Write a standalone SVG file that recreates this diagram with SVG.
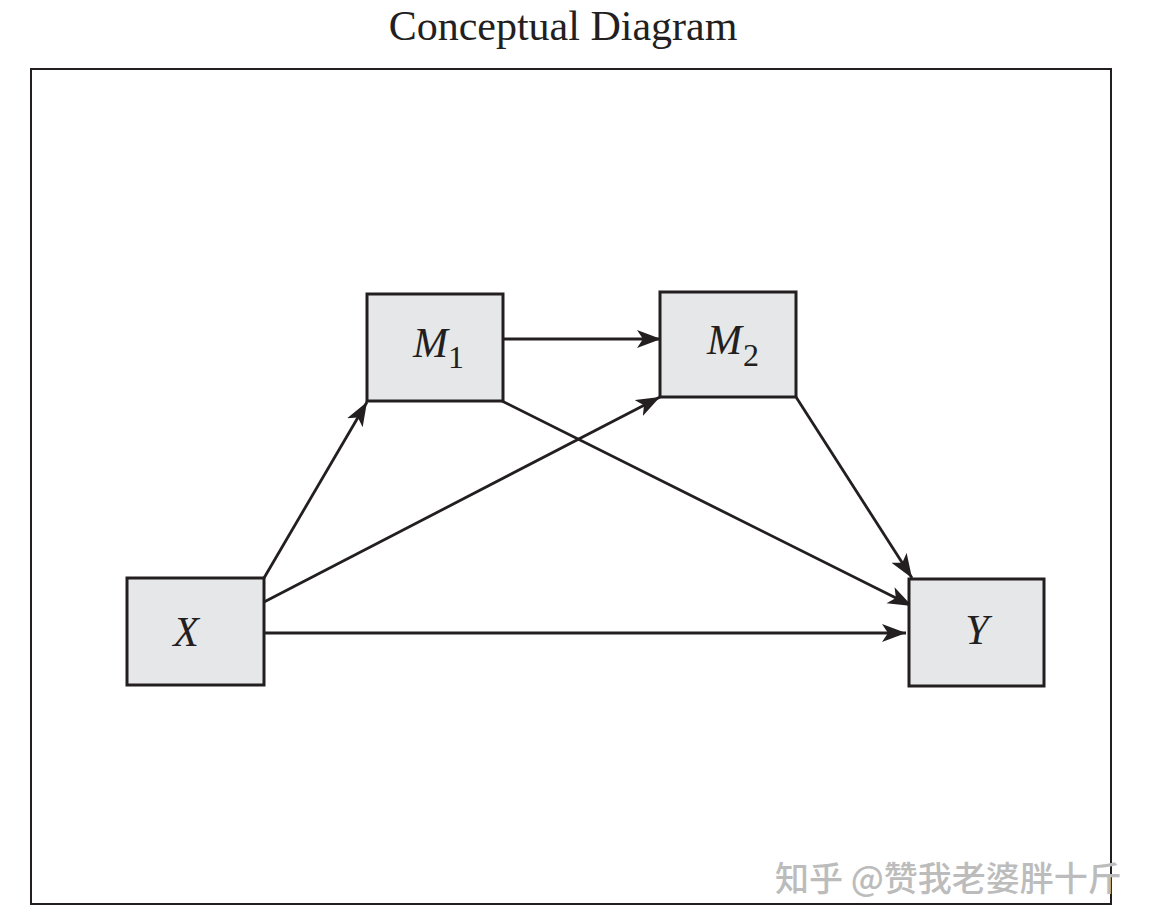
<svg xmlns="http://www.w3.org/2000/svg" width="1151" height="922" viewBox="0 0 1151 922">
<style>
.node rect{fill:#e6e7e9;stroke:#231f20;stroke-width:3}
.lbl{font-family:"Liberation Serif","Times New Roman",serif;font-style:italic;font-size:42px;fill:#231f20}
.sub{font-family:"Liberation Serif","Times New Roman",serif;font-size:32px;fill:#231f20}
.edge{stroke:#231f20;stroke-width:2.8;fill:none;marker-end:url(#ah)}
</style>
<defs>
<marker id="ah" markerUnits="userSpaceOnUse" markerWidth="26" markerHeight="20" refX="24" refY="9" orient="auto">
<path d="M0,0 L24,9 L0,18 L6,9 z" fill="#231f20"/>
</marker>
</defs>
<rect width="1151" height="922" fill="#ffffff"/>
<text x="563" y="40" text-anchor="middle" font-family="'Liberation Serif','Times New Roman',serif" font-size="42" fill="#231f20">Conceptual Diagram</text>
<rect x="31" y="69" width="1080" height="835" fill="none" stroke="#231f20" stroke-width="2"/>
<g id="connectors">
<line class="edge" x1="503" y1="339" x2="661" y2="339"/>
<line class="edge" x1="264" y1="578" x2="367" y2="402"/>
<line class="edge" x1="264" y1="602" x2="660" y2="397"/>
<line class="edge" x1="502" y1="401" x2="912" y2="606"/>
<line class="edge" x1="796" y1="397" x2="912" y2="578"/>
<line class="edge" x1="264" y1="633" x2="906" y2="633"/>
</g>
<g id="node-M1" class="node">
<rect x="367" y="294" width="136" height="107"/>
<text x="413" y="357" class="lbl">M</text><text x="448" y="368" class="sub">1</text>
</g>
<g id="node-M2" class="node">
<rect x="660" y="292" width="136" height="105"/>
<text x="707" y="354" class="lbl">M</text><text x="743" y="366" class="sub">2</text>
</g>
<g id="node-X" class="node">
<rect x="127" y="578" width="137" height="107"/>
<text x="186" y="646" class="lbl" text-anchor="middle">X</text>
</g>
<g id="node-Y" class="node">
<rect x="909" y="579" width="135" height="107"/>
<text x="977" y="644" class="lbl" text-anchor="middle">Y</text>
</g>
<text x="775" y="891" font-family="'Noto Sans CJK SC','Noto Sans',sans-serif" font-size="34" font-weight="500" fill="#bcbcbc">知乎 @赞我老婆胖十斤</text>
</svg>
